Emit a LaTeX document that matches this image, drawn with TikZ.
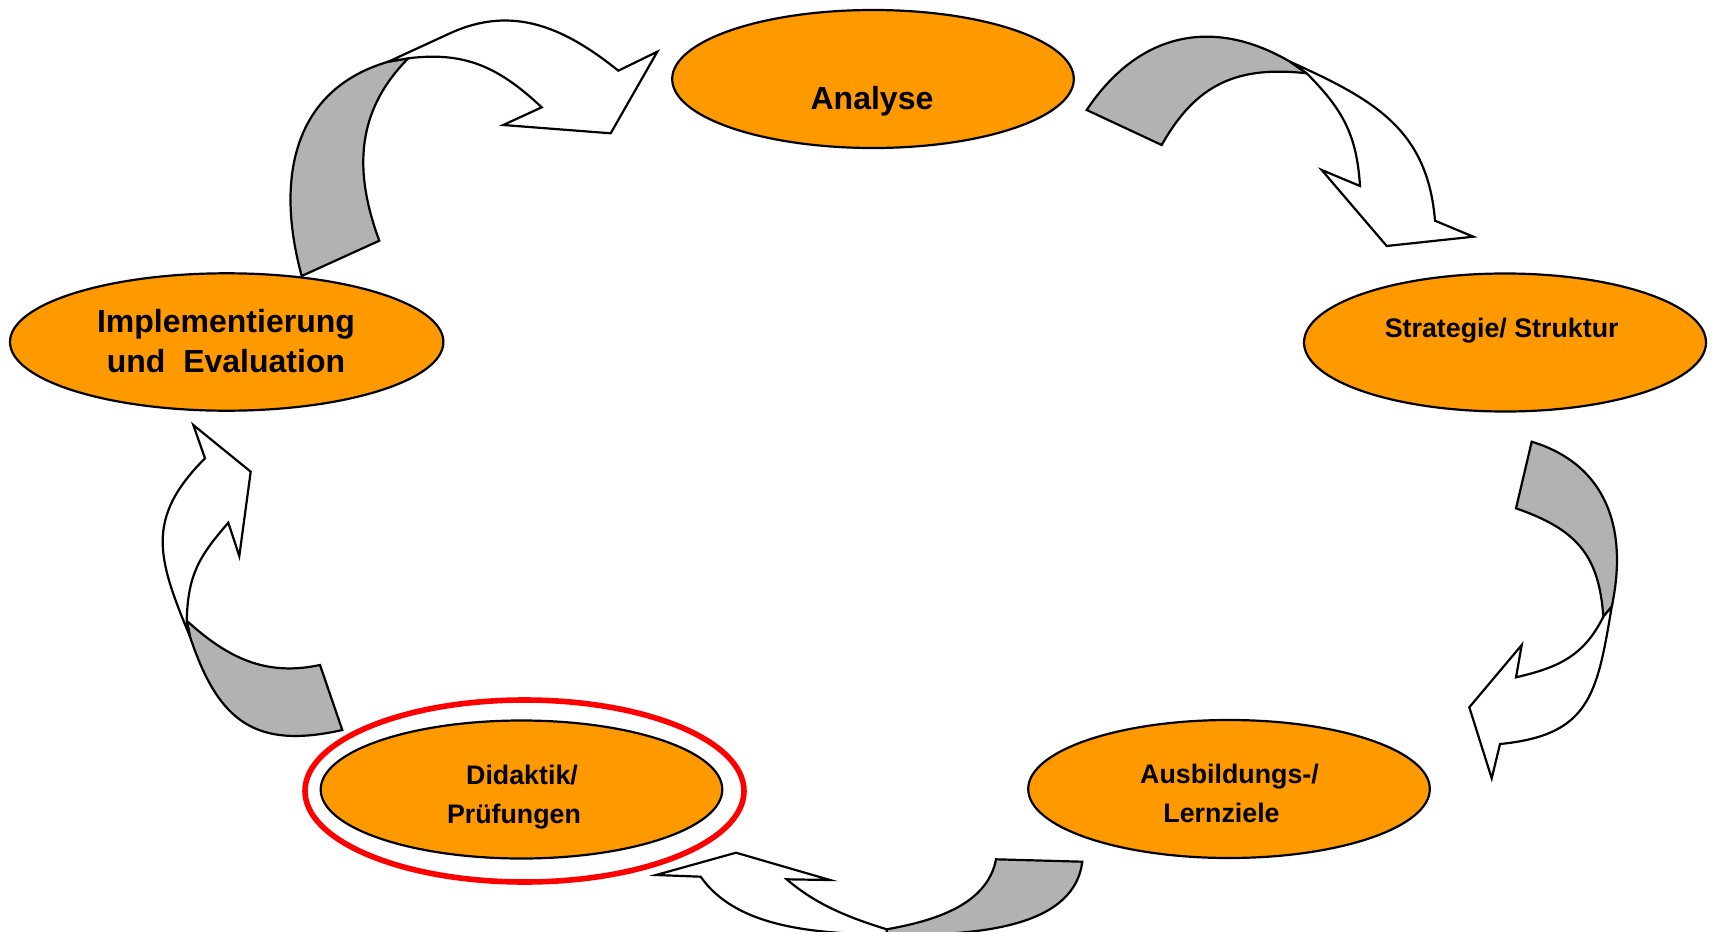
\documentclass[tikz,border=0pt]{standalone}
\usepackage{fontspec}
\setmainfont{Liberation Sans}
\usepackage{xcolor}
\usepackage{tikz}
\usetikzlibrary{shapes.geometric}
\definecolor{phaseorange}{HTML}{FF9900}
\definecolor{backgray}{HTML}{B2B2B2}

\begin{document}
\begin{tikzpicture}[
    x=0.5pt, y=-0.5pt,
    phase/.style={ellipse, draw, fill=phaseorange, line width=1.1pt, inner sep=0pt, minimum width=200.8pt, minimum height=69pt},
    focus/.style={ellipse, draw=red, line width=2.8pt, inner sep=0pt, minimum width=219.5pt, minimum height=91pt},
    bigtext/.style={font=\fontsize{16}{20}\selectfont\bfseries, align=center, inner sep=0pt},
    smalltext/.style={font=\fontsize{13.4}{19.5}\selectfont\bfseries, align=center, inner sep=0pt},
    backface/.style={draw, fill=backgray, line width=1.1pt},
    frontface/.style={draw, fill=white, line width=1.1pt}
]
\path[use as bounding box, clip] (0,0) rectangle (1712,931);

% Implementierung -> Analyse
\draw[backface] (301.7,276) -- (379.3,240.7)
  .. controls (353.5,171) and (355.9,111) .. (408.3,58.3)
  -- (388.3,61.7)
  .. controls (292.3,89.7) and (275.3,179.6) .. (301.7,276)
  -- cycle;
\draw[frontface] (388.3,61.7) -- (450,33.3)
  .. controls (512.6,4.5) and (564.6,27.5) .. (618.3,70.7)
  -- (657.3,51.7) -- (610.7,133.3) -- (503.3,125) -- (541.7,107.3)
  .. controls (499.6,67.8) and (465.5,51.1) .. (408.3,58.3)
  -- cycle;

% Analyse -> Strategie
\draw[backface] (1086.7,110) -- (1161.7,145)
  .. controls (1196,84) and (1237.1,65.6) .. (1306.7,73.3)
  -- (1290,61.7)
  .. controls (1211.2,15.6) and (1137.2,34) .. (1086.7,110)
  -- cycle;
\draw[frontface] (1290,61.7)
  .. controls (1373.8,99.5) and (1427.5,129.1) .. (1435,220.7)
  -- (1473.3,236.7) -- (1386.7,246) -- (1321.7,170) -- (1360,186)
  .. controls (1356.7,134.8) and (1342.9,109.7) .. (1306.7,73.3)
  -- cycle;

% Strategie -> Lernziele
\draw[backface] (1531.7,441.7) -- (1516,508.3)
  .. controls (1575.4,529.1) and (1599,553.9) .. (1603.3,616.7)
  -- (1611.7,606.7)
  .. controls (1628.2,529.5) and (1607.1,464.7) .. (1531.7,441.7)
  -- cycle;
\draw[frontface] (1611.7,606.7)
  .. controls (1597,695.3) and (1589.5,735.2) .. (1500,744)
  -- (1491.7,778.3) -- (1469.3,707.3) -- (1521.7,645) -- (1516,677.3)
  .. controls (1558.7,667.4) and (1583.9,655.9) .. (1603.3,616.7)
  -- cycle;

% Lernziele -> Didaktik
\draw[backface] (996,859.3) -- (1082.3,861.7)
  .. controls (1073.2,933.7) and (959.3,935) .. (886.7,935)
  -- (886.7,929.3)
  .. controls (932.9,921.1) and (987.3,905.4) .. (996,859.3)
  -- cycle;
\draw[frontface] (886.7,929.3)
  .. controls (849.5,917.8) and (816.2,904.8) .. (786.7,879.3)
  -- (830,880) -- (736,852.7) -- (656,875) -- (700.7,876.7)
  .. controls (738.1,930.2) and (821.4,933) .. (886.7,935)
  -- cycle;

% Didaktik -> Implementierung
\draw[backface] (320,665) -- (342.3,730)
  .. controls (255,749.6) and (218.3,721.5) .. (190,636.7)
  -- (186.7,620.7)
  .. controls (227.7,658) and (265.8,676.6) .. (320,665)
  -- cycle;
\draw[frontface] (190,636.7)
  .. controls (157.4,558) and (144.8,518.5) .. (205,458.3)
  -- (193.3,425) -- (250.7,471.7) -- (239.3,556) -- (228.3,522.7)
  .. controls (198.4,557.1) and (188,575.1) .. (186.7,620.7)
  -- cycle;

% Phasen
\node[phase] (analyse) at (873,79) {};
\node[phase, minimum width=201pt] (strategie) at (1505,342.5) {};
\node[phase, minimum width=216.7pt, minimum height=68.7pt] (implementierung) at (226.7,342) {};
\node[phase] (lernziele) at (1229,789) {};
\node[phase] (didaktik) at (521.5,789.5) {};
\node[focus] (ring) at (524.5,791) {};

\node[bigtext] (analyse-txt) at (872,101.6) {Analyse};
\node[smalltext] (strategie-txt) at (1501.7,330.4) {Strategie/ Struktur};
\node[bigtext] (implementierung-txt) at (226,341) {Implementierung\\und\ \ Evaluation};
\node[smalltext] (lernziele-txt) at (1229.5,793.6) {Ausbildungs-/\\Lernziele\hspace*{8pt}};
\node[smalltext] (didaktik-txt) at (522,796.8) {Didaktik/\\Prüfungen\hspace*{8pt}};

\end{tikzpicture}
\end{document}
